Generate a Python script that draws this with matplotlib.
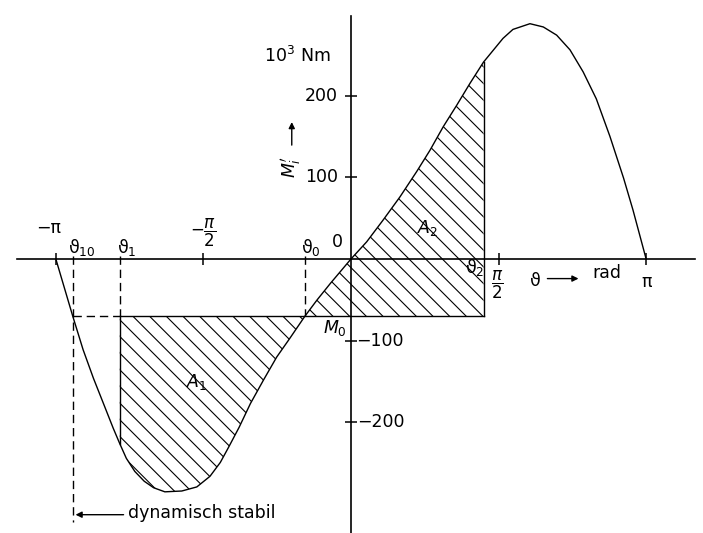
import matplotlib

matplotlib.use("Agg")
import matplotlib.pyplot as plt
import numpy as np

# torque curve M'_i(theta) (rad, 10^3 Nm)
theta = np.array([
    -3.14, -2.96, -2.85, -2.74, -2.64, -2.53, -2.46, -2.39, -2.30, -2.20,
    -2.10, -1.98, -1.80, -1.64, -1.50, -1.39, -1.30, -1.19, -1.07, -0.93,
    -0.79, -0.65, -0.49, -0.36, -0.22, 0.0, 0.167, 0.344, 0.521, 0.699,
    0.840, 0.982, 1.124, 1.266, 1.41, 1.617, 1.723, 1.904, 2.046, 2.188,
    2.33, 2.47, 2.61, 2.755, 2.90, 3.00, 3.07, 3.14,
])
torque = np.array([
    0, -70, -111, -146, -175, -207, -226, -244, -260, -272,
    -280, -285, -284, -279, -266, -249, -230, -206, -177, -148,
    -120, -97, -70, -50, -30, 0, 21, 48, 76, 107,
    133, 162, 188, 215, 241, 270, 281, 288, 284, 274,
    256, 229, 196, 150, 99, 60, 30, 0,
])

# characteristic angles and load torque
theta_10 = -2.96
theta_1 = -2.46
theta_0 = -0.49
theta_2 = 1.41
M0 = -70

x_ticks = [-np.pi, -np.pi / 2, np.pi / 2, np.pi]
y_ticks = [-200, -100, 100, 200]

plt.rcParams["font.family"] = ["DejaVu Sans"]
plt.rcParams["mathtext.fontset"] = "dejavusans"
plt.rcParams["hatch.color"] = "black"
plt.rcParams["hatch.linewidth"] = 0.8

fig = plt.figure(figsize=(7.03, 5.33), dpi=100)
ax = fig.add_axes([0, 0, 1, 1])
ax.set_xlim(-3.734, 3.745)
ax.set_ylim(-335.4, 317.0)

# axes through the origin
for side in ("top", "right"):
    ax.spines[side].set_visible(False)
ax.spines["left"].set_position(("data", 0))
ax.spines["bottom"].set_position(("data", 0))
ax.spines["left"].set_bounds(-335, 298)
ax.spines["bottom"].set_bounds(-3.55, 3.66)
for side in ("left", "bottom"):
    ax.spines[side].set_linewidth(1.2)
ax.set_xticks(x_ticks)
ax.set_yticks(y_ticks)
ax.set_xticklabels([])
ax.set_yticklabels([])
ax.tick_params(direction="inout", length=8, width=1.1)
ax.patch.set_alpha(0)

# curve
ax.plot(theta, torque, color="black", lw=1.0)

# hatched areas A1 and A2
m1 = (theta >= theta_1) & (theta <= theta_0)
ax.fill_between(theta[m1], torque[m1], M0, facecolor="none", edgecolor="black",
                linewidth=0, hatch="\\\\")
m2 = (theta >= theta_0) & (theta <= theta_2)
ax.fill_between(theta[m2], M0, torque[m2], facecolor="none", edgecolor="black",
                linewidth=0, hatch="\\\\")

# construction lines
dash = (0, (6, 3.5))
ax.plot([theta_10, theta_10], [4, -322], color="black", lw=1.0, ls=dash)
ax.plot([theta_1, theta_1], [4, M0], color="black", lw=1.0, ls=dash)
ax.plot([theta_0, theta_0], [4, M0], color="black", lw=1.0, ls=dash)
ax.plot([theta_10, theta_1], [M0, M0], color="black", lw=1.0, ls=dash)
ax.plot([theta_1, theta_2], [M0, M0], color="black", lw=1.0)
ax.plot([theta_1, theta_1], [M0, torque[theta == theta_1][0]], color="black", lw=1.0)
ax.plot([theta_2, theta_2], [M0, torque[theta == theta_2][0]], color="black", lw=1.0)

fs = 12.5
kw = dict(ha="center", va="center", fontsize=fs)
arrow = dict(arrowstyle="-|>", color="black", lw=1.0, mutation_scale=9)

# x axis labels
ax.text(-3.22, 38, "−π", **kw)
ax.text(-2.86, 13.5, r"ϑ$_{10}$", **kw)
ax.text(-2.39, 13.5, r"ϑ$_1$", **kw)
ax.text(-1.57, 32, r"$-\dfrac{\pi}{2}$", ha="center", va="center", fontsize=12)
ax.text(-0.43, 13.5, r"ϑ$_0$", **kw)
ax.text(-0.14, 21, "0", **kw)
ax.text(1.32, -11, r"ϑ$_2$", **kw)
ax.text(1.56, -32, r"$\dfrac{\pi}{2}$", ha="center", va="center", fontsize=12)
ax.text(1.96, -27, "ϑ", **kw)
ax.annotate("", xy=(2.45, -24), xytext=(2.06, -24), arrowprops=arrow)
ax.text(2.72, -17, "rad", **kw)
ax.text(3.15, -28, "π", **kw)

# y axis labels
ax.text(-0.14, 200, "200", ha="right", va="center", fontsize=fs)
ax.text(-0.14, 100, "100", ha="right", va="center", fontsize=fs)
ax.text(0.05, -100, "−100", ha="left", va="center", fontsize=fs)
ax.text(0.065, -200, "−200", ha="left", va="center", fontsize=fs)
ax.text(-0.57, 248, r"10$^3$ Nm", **kw)
ax.text(-0.64, 112, r"$M_i'$", ha="center", va="center", fontsize=fs,
        rotation=90)
ax.annotate("", xy=(-0.63, 171), xytext=(-0.63, 136), arrowprops=arrow)

# region labels
ax.text(-0.17, -84, r"$M_0$", **kw)
ax.text(-1.64, -151, r"$A_1$", **kw)
ax.text(0.82, 38, r"$A_2$", **kw)

# stability limit
ax.annotate("", xy=(theta_10, -313), xytext=(-2.39, -313), arrowprops=arrow)
ax.text(-2.37, -311, "dynamisch stabil", ha="left", va="center", fontsize=fs)

fig.savefig("out.png", dpi=100)
